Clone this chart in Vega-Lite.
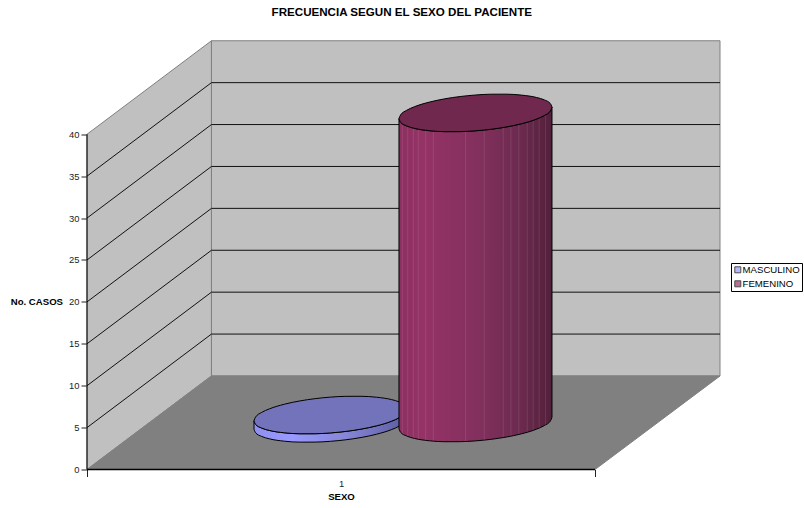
{
  "$schema": "https://vega.github.io/schema/vega-lite/v6.json",
  "width": 633,
  "height": 429,
  "autosize": "none",
  "padding": {"left": 87, "top": 40.5, "right": 84, "bottom": 38.5},
  "background": "white",
  "title": {
    "text": "FRECUENCIA SEGUN EL SEXO DEL PACIENTE",
    "font": "Liberation Sans",
    "fontSize": 11.6,
    "fontWeight": "bold",
    "color": "#000000",
    "anchor": "middle",
    "dx": -1.7,
    "offset": 20
  },
  "config": {
    "view": {"stroke": null},
    "font": "Liberation Sans"
  },
  "datasets": {
    "casos": [
      {"sexo": "MASCULINO", "pos": 50, "casos": 1},
      {"sexo": "FEMENINO", "pos": 50, "casos": 37}
    ],
    "paredLateral": [
      {"pos": 0, "casos": 0, "casos2": 40},
      {"pos": 24.5, "casos": 11.16, "casos2": 51.16}
    ],
    "paredFondo": [
      {"pos": 24.5, "pos2": 124.6, "casos": 11.16, "casos2": 51.16}
    ],
    "piso": [
      {"pos": 0, "pos2": 100, "casos": 0},
      {"pos": 24.5, "pos2": 124.6, "casos": 11.16}
    ],
    "rejilla": [
      {"pos": 0, "pos2": 24.5, "casos": 5, "casos2": 16.16},
      {"pos": 0, "pos2": 24.5, "casos": 10, "casos2": 21.16},
      {"pos": 0, "pos2": 24.5, "casos": 15, "casos2": 26.16},
      {"pos": 0, "pos2": 24.5, "casos": 20, "casos2": 31.16},
      {"pos": 0, "pos2": 24.5, "casos": 25, "casos2": 36.16},
      {"pos": 0, "pos2": 24.5, "casos": 30, "casos2": 41.16},
      {"pos": 0, "pos2": 24.5, "casos": 35, "casos2": 46.16},
      {"pos": 24.5, "pos2": 124.6, "casos": 16.16, "casos2": 16.16},
      {"pos": 24.5, "pos2": 124.6, "casos": 21.16, "casos2": 21.16},
      {"pos": 24.5, "pos2": 124.6, "casos": 26.16, "casos2": 26.16},
      {"pos": 24.5, "pos2": 124.6, "casos": 31.16, "casos2": 31.16},
      {"pos": 24.5, "pos2": 124.6, "casos": 36.16, "casos2": 36.16},
      {"pos": 24.5, "pos2": 124.6, "casos": 41.16, "casos2": 41.16},
      {"pos": 24.5, "pos2": 124.6, "casos": 46.16, "casos2": 46.16}
    ],
    "ejeVertical": [{"pos": 0, "casos": 0, "casos2": 40}],
    "ejeHorizontal": [{"pos": 0, "pos2": 100, "casos": 0}],
    "cilindro": [
      {"serie": "MASCULINO", "pos": 32.87, "casos": 4.808, "cara_inf": 5.808, "cara_sup": 5.808},
      {"serie": "MASCULINO", "pos": 33.17, "casos": 4.397, "cara_inf": 5.397, "cara_sup": 6.247},
      {"serie": "MASCULINO", "pos": 34.38, "casos": 3.946, "cara_inf": 4.946, "cara_sup": 6.808},
      {"serie": "MASCULINO", "pos": 35.88, "casos": 3.664, "cara_inf": 4.664, "cara_sup": 7.228},
      {"serie": "MASCULINO", "pos": 38.89, "casos": 3.376, "cara_inf": 4.376, "cara_sup": 7.794},
      {"serie": "MASCULINO", "pos": 41.91, "casos": 3.264, "cara_inf": 4.264, "cara_sup": 8.182},
      {"serie": "MASCULINO", "pos": 44.92, "casos": 3.269, "cara_inf": 4.269, "cara_sup": 8.455},
      {"serie": "MASCULINO", "pos": 47.93, "casos": 3.364, "cara_inf": 4.364, "cara_sup": 8.636},
      {"serie": "MASCULINO", "pos": 50.94, "casos": 3.545, "cara_inf": 4.545, "cara_sup": 8.731},
      {"serie": "MASCULINO", "pos": 53.95, "casos": 3.818, "cara_inf": 4.818, "cara_sup": 8.736},
      {"serie": "MASCULINO", "pos": 56.97, "casos": 4.206, "cara_inf": 5.206, "cara_sup": 8.624},
      {"serie": "MASCULINO", "pos": 59.98, "casos": 4.772, "cara_inf": 5.772, "cara_sup": 8.336},
      {"serie": "MASCULINO", "pos": 61.48, "casos": 5.192, "cara_inf": 6.192, "cara_sup": 8.054},
      {"serie": "MASCULINO", "pos": 62.69, "casos": 5.753, "cara_inf": 6.753, "cara_sup": 7.603},
      {"serie": "MASCULINO", "pos": 62.99, "casos": 6.192, "cara_inf": 7.192, "cara_sup": 7.192},
      {"serie": "FEMENINO", "pos": 61.41, "casos": 4.858, "cara_inf": 41.858, "cara_sup": 41.858},
      {"serie": "FEMENINO", "pos": 61.71, "casos": 4.447, "cara_inf": 41.447, "cara_sup": 42.297},
      {"serie": "FEMENINO", "pos": 62.92, "casos": 3.996, "cara_inf": 40.996, "cara_sup": 42.858},
      {"serie": "FEMENINO", "pos": 64.42, "casos": 3.714, "cara_inf": 40.714, "cara_sup": 43.278},
      {"serie": "FEMENINO", "pos": 67.43, "casos": 3.426, "cara_inf": 40.426, "cara_sup": 43.844},
      {"serie": "FEMENINO", "pos": 70.45, "casos": 3.314, "cara_inf": 40.314, "cara_sup": 44.232},
      {"serie": "FEMENINO", "pos": 73.46, "casos": 3.319, "cara_inf": 40.319, "cara_sup": 44.505},
      {"serie": "FEMENINO", "pos": 76.47, "casos": 3.414, "cara_inf": 40.414, "cara_sup": 44.686},
      {"serie": "FEMENINO", "pos": 79.48, "casos": 3.595, "cara_inf": 40.595, "cara_sup": 44.781},
      {"serie": "FEMENINO", "pos": 82.49, "casos": 3.868, "cara_inf": 40.868, "cara_sup": 44.786},
      {"serie": "FEMENINO", "pos": 85.51, "casos": 4.256, "cara_inf": 41.256, "cara_sup": 44.674},
      {"serie": "FEMENINO", "pos": 88.52, "casos": 4.822, "cara_inf": 41.822, "cara_sup": 44.386},
      {"serie": "FEMENINO", "pos": 90.02, "casos": 5.242, "cara_inf": 42.242, "cara_sup": 44.104},
      {"serie": "FEMENINO", "pos": 91.23, "casos": 5.803, "cara_inf": 42.803, "cara_sup": 43.653},
      {"serie": "FEMENINO", "pos": 91.53, "casos": 6.242, "cara_inf": 43.242, "cara_sup": 43.242}
    ],
    "facetas": [
      {"pos": 62.07, "casos": 4.262, "casos2": 41.262},
      {"pos": 63.13, "casos": 3.946, "casos2": 40.946},
      {"pos": 64.23, "casos": 3.744, "casos2": 40.744},
      {"pos": 65.22, "casos": 3.613, "casos2": 40.613},
      {"pos": 66.67, "casos": 3.479, "casos2": 40.479},
      {"pos": 68.17, "casos": 3.388, "casos2": 40.388},
      {"pos": 74.53, "casos": 3.342, "casos2": 40.342},
      {"pos": 78.19, "casos": 3.508, "casos2": 40.508},
      {"pos": 81.93, "casos": 3.811, "casos2": 40.811},
      {"pos": 83.44, "casos": 3.977, "casos2": 40.977},
      {"pos": 85.0, "casos": 4.182, "casos2": 41.182},
      {"pos": 86.65, "casos": 4.444, "casos2": 41.444},
      {"pos": 87.83, "casos": 4.669, "casos2": 41.669},
      {"pos": 89.01, "casos": 4.945, "casos2": 41.945},
      {"pos": 90.27, "casos": 5.327, "casos2": 42.327}
    ]
  },
  "encoding": {
    "x": {
      "field": "pos",
      "type": "quantitative",
      "scale": {"domain": [0, 124.6], "nice": false, "zero": false},
      "axis": {
        "values": [0, 50, 100],
        "labelExpr": "datum.value === 50 ? '1' : ''",
        "grid": false,
        "domain": false,
        "tickColor": "#222222",
        "tickSize": 7,
        "tickOpacity": {"condition": {"test": "datum.value === 50", "value": 0}, "value": 1},
        "labelFont": "Liberation Sans",
        "labelFontSize": 9.4,
        "labelColor": "#222222",
        "labelPadding": 3,
        "labelFlush": false,
        "title": "SEXO",
        "titleFont": "Liberation Sans",
        "titleFontSize": 9.6,
        "titleFontWeight": "bold",
        "titleColor": "#000000",
        "titleX": 254,
        "titleY": 27,
        "titleBaseline": "middle",
        "titleAlign": "center"
      }
    },
    "y": {
      "field": "casos",
      "type": "quantitative",
      "scale": {"domain": [0, 51.19], "nice": false, "zero": false},
      "axis": {
        "values": [0, 5, 10, 15, 20, 25, 30, 35, 40],
        "grid": false,
        "domain": false,
        "tickColor": "#222222",
        "tickSize": 6,
        "labelFont": "Liberation Sans",
        "labelFontSize": 9.4,
        "labelColor": "#222222",
        "labelPadding": 2,
        "labelFlush": false,
        "title": "No. CASOS",
        "titleFont": "Liberation Sans",
        "titleFontSize": 9.6,
        "titleFontWeight": "bold",
        "titleColor": "#000000",
        "titleAngle": 0,
        "titleAlign": "right",
        "titleBaseline": "middle",
        "titleX": -24.5,
        "titleY": 261
      }
    }
  },
  "layer": [
    {
      "data": {"name": "paredLateral"},
      "mark": {"type": "area", "fill": "#c0c0c0", "stroke": "#808080", "strokeWidth": 1},
      "encoding": {"y2": {"field": "casos2"}}
    },
    {
      "data": {"name": "paredFondo"},
      "mark": {"type": "rect", "fill": "#c0c0c0", "stroke": "#808080", "strokeWidth": 1},
      "encoding": {"x2": {"field": "pos2"}, "y2": {"field": "casos2"}}
    },
    {
      "data": {"name": "piso"},
      "mark": {"type": "area", "orient": "horizontal", "fill": "#808080", "stroke": "#808080", "strokeWidth": 1},
      "encoding": {"x2": {"field": "pos2"}}
    },
    {
      "data": {"name": "rejilla"},
      "mark": {"type": "rule", "color": "#111111", "strokeWidth": 1},
      "encoding": {"x2": {"field": "pos2"}, "y2": {"field": "casos2"}}
    },
    {
      "data": {"name": "ejeVertical"},
      "mark": {"type": "rule", "color": "#000000", "strokeWidth": 1},
      "encoding": {"y2": {"field": "casos2"}}
    },
    {
      "data": {"name": "ejeHorizontal"},
      "mark": {"type": "rule", "color": "#000000", "strokeWidth": 1.5},
      "encoding": {"x2": {"field": "pos2"}}
    },
    {
      "data": {"name": "cilindro"},
      "transform": [{"filter": "datum.serie === 'MASCULINO'"}],
      "mark": {
        "type": "area",
        "interpolate": "monotone",
        "stroke": "#000000",
        "strokeWidth": 1,
        "fill": {
          "gradient": "linear", "x1": 0, "y1": 0, "x2": 1, "y2": 0,
          "stops": [
            {"offset": 0, "color": "#9090f0"},
            {"offset": 0.25, "color": "#9999ff"},
            {"offset": 0.6, "color": "#8686d8"},
            {"offset": 1, "color": "#5c5ca0"}
          ]
        }
      },
      "encoding": {"y2": {"field": "cara_inf"}}
    },
    {
      "data": {"name": "cilindro"},
      "transform": [{"filter": "datum.serie === 'MASCULINO'"}],
      "mark": {"type": "area", "interpolate": "monotone", "fill": "#7373bb", "stroke": "#000000", "strokeWidth": 1},
      "encoding": {
        "y": {"field": "cara_inf", "type": "quantitative", "scale": {"domain": [0, 51.19], "nice": false, "zero": false}},
        "y2": {"field": "cara_sup"}
      }
    },
    {
      "data": {"name": "cilindro"},
      "transform": [{"filter": "datum.serie === 'FEMENINO'"}],
      "mark": {
        "type": "area",
        "interpolate": "monotone",
        "stroke": "#000000",
        "strokeWidth": 1,
        "fill": {
          "gradient": "linear", "x1": 0, "y1": 0, "x2": 1, "y2": 0,
          "stops": [
            {"offset": 0, "color": "#8c2f60"},
            {"offset": 0.15, "color": "#953366"},
            {"offset": 0.5, "color": "#84305e"},
            {"offset": 0.8, "color": "#6b2a4e"},
            {"offset": 1, "color": "#52203a"}
          ]
        }
      },
      "encoding": {"y2": {"field": "cara_inf"}}
    },
    {
      "data": {"name": "facetas"},
      "mark": {"type": "rule", "color": "#ffffff", "opacity": 0.1, "strokeWidth": 1},
      "encoding": {"y2": {"field": "casos2"}}
    },
    {
      "data": {"name": "cilindro"},
      "transform": [{"filter": "datum.serie === 'FEMENINO'"}],
      "mark": {"type": "area", "interpolate": "monotone", "fill": "#70284f", "stroke": "#000000", "strokeWidth": 1},
      "encoding": {
        "y": {"field": "cara_inf", "type": "quantitative", "scale": {"domain": [0, 51.19], "nice": false, "zero": false}},
        "y2": {"field": "cara_sup"}
      }
    },
    {
      "data": {"name": "casos"},
      "mark": {"type": "square", "size": 0, "filled": true},
      "encoding": {
        "color": {
          "field": "sexo",
          "type": "nominal",
          "scale": {"domain": ["MASCULINO", "FEMENINO"], "range": ["#9999ff", "#993366"]},
          "legend": {
            "orient": "none",
            "legendX": 644,
            "legendY": 222.5,
            "title": null,
            "fillColor": "#ffffff",
            "strokeColor": "#000000",
            "padding": 2,
            "rowPadding": 3,
            "symbolType": "square",
            "symbolSize": 36,
            "symbolStrokeColor": "#000000",
            "symbolStrokeWidth": 1,
            "labelFont": "Liberation Sans",
            "labelFontSize": 9.6,
            "labelColor": "#000000",
            "labelOffset": 0
          }
        }
      }
    }
  ]
}
